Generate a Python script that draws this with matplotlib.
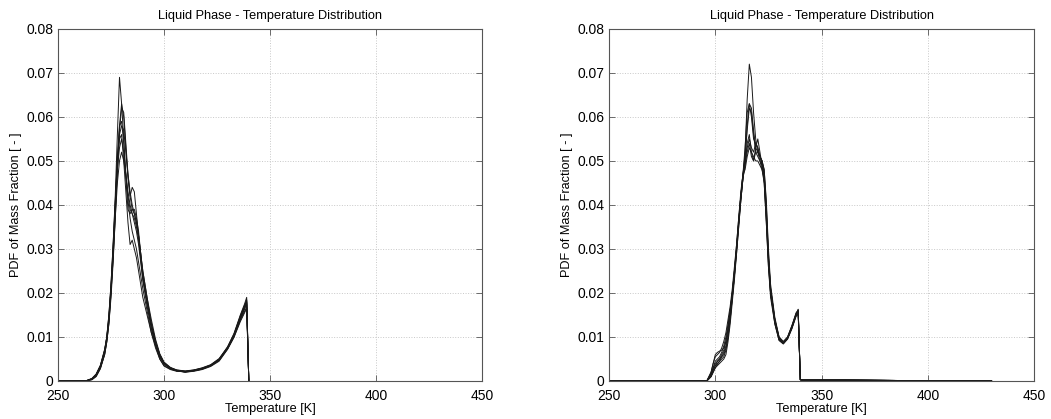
import matplotlib
matplotlib.use("Agg")
import matplotlib.pyplot as plt

plt.rcParams['font.family'] = ['Liberation Sans', 'DejaVu Sans']

# ---------------- data: left panel ----------------
T_left = [250, 263, 266, 268, 270, 272, 273, 274, 275, 276, 277, 278, 279, 280, 281,
          282, 283, 284, 285, 286, 287, 288, 289, 290, 292, 294, 296, 298, 300, 303,
          306, 310, 314, 318, 322, 326, 330, 333, 336, 338, 339, 340]

L1 = [0, 0, 0.0005, 0.0015, 0.0035, 0.007, 0.010, 0.015, 0.022, 0.031, 0.042, 0.056, 0.069, 0.063, 0.055,
      0.047, 0.041, 0.037, 0.034, 0.032, 0.030, 0.027, 0.024, 0.021, 0.016, 0.011, 0.008, 0.005, 0.0035, 0.0027,
      0.0023, 0.0021, 0.0024, 0.0028, 0.0035, 0.0048, 0.0075, 0.0105, 0.0145, 0.0170, 0.0185, 0]
L2 = [0, 0, 0.0004, 0.0012, 0.003, 0.006, 0.009, 0.013, 0.019, 0.027, 0.037, 0.048, 0.058, 0.063, 0.060,
      0.053, 0.046, 0.042, 0.044, 0.043, 0.038, 0.033, 0.028, 0.023, 0.017, 0.012, 0.008, 0.0055, 0.004, 0.003,
      0.0024, 0.0022, 0.0025, 0.0029, 0.0036, 0.0050, 0.0078, 0.0108, 0.0150, 0.0175, 0.0190, 0]
L3 = [0, 0, 0.0005, 0.0014, 0.0033, 0.0068, 0.0098, 0.014, 0.021, 0.030, 0.040, 0.051, 0.058, 0.059, 0.054,
      0.046, 0.039, 0.038, 0.039, 0.039, 0.037, 0.034, 0.029, 0.024, 0.018, 0.012, 0.0085, 0.0055, 0.0038, 0.0028,
      0.0023, 0.0020, 0.0023, 0.0027, 0.0034, 0.0047, 0.0074, 0.0102, 0.0140, 0.0163, 0.0175, 0]
L4 = [0, 0, 0.0006, 0.0016, 0.0036, 0.0072, 0.010, 0.015, 0.022, 0.031, 0.041, 0.050, 0.055, 0.056, 0.050,
      0.043, 0.036, 0.031, 0.032, 0.030, 0.028, 0.025, 0.022, 0.019, 0.015, 0.011, 0.0075, 0.005, 0.0034, 0.0026,
      0.0022, 0.0021, 0.0023, 0.0027, 0.0035, 0.0047, 0.0073, 0.0100, 0.0138, 0.0158, 0.0168, 0]
L5 = [0, 0, 0.0003, 0.001, 0.0028, 0.006, 0.0088, 0.013, 0.020, 0.028, 0.038, 0.048, 0.056, 0.058, 0.057,
      0.052, 0.047, 0.043, 0.040, 0.038, 0.036, 0.033, 0.029, 0.025, 0.019, 0.013, 0.009, 0.006, 0.0042, 0.0030,
      0.0025, 0.0022, 0.0024, 0.0029, 0.0036, 0.0049, 0.0076, 0.0105, 0.0145, 0.0168, 0.0180, 0]
L6 = [0, 0, 0.0004, 0.0013, 0.0032, 0.0066, 0.0095, 0.014, 0.021, 0.029, 0.039, 0.048, 0.053, 0.055, 0.052,
      0.047, 0.042, 0.039, 0.038, 0.037, 0.035, 0.032, 0.028, 0.024, 0.018, 0.013, 0.009, 0.006, 0.004, 0.0029,
      0.0024, 0.0020, 0.0022, 0.0026, 0.0033, 0.0045, 0.0072, 0.0099, 0.0135, 0.0155, 0.0165, 0]
L7 = [0, 0, 0.0005, 0.0015, 0.0034, 0.007, 0.0098, 0.0145, 0.021, 0.030, 0.040, 0.050, 0.057, 0.062, 0.061,
      0.054, 0.047, 0.042, 0.039, 0.038, 0.036, 0.033, 0.029, 0.025, 0.019, 0.014, 0.0095, 0.0062, 0.0043, 0.0031,
      0.0025, 0.0023, 0.0025, 0.0030, 0.0037, 0.0051, 0.0077, 0.0106, 0.0148, 0.0172, 0.0183, 0]
L8 = [0, 0, 0.0003, 0.0011, 0.0029, 0.0062, 0.009, 0.0135, 0.020, 0.028, 0.037, 0.045, 0.050, 0.052, 0.050,
      0.047, 0.043, 0.040, 0.038, 0.036, 0.034, 0.031, 0.027, 0.023, 0.018, 0.013, 0.0088, 0.0058, 0.0040, 0.0029,
      0.0023, 0.0021, 0.0024, 0.0028, 0.0035, 0.0048, 0.0075, 0.0103, 0.0142, 0.0165, 0.0178, 0]

# ---------------- data: right panel ----------------
T_right = [250, 296, 298, 299, 300, 301, 302, 303, 304, 305, 306, 307, 308, 309, 310,
           311, 312, 313, 314, 315, 316, 317, 318, 319, 320, 321, 322, 323, 324, 325,
           326, 328, 330, 332, 334, 336, 338, 339, 340, 341, 360, 390, 430]

R1 = [0, 0, 0.0015, 0.003, 0.004, 0.0045, 0.005, 0.0055, 0.006, 0.0075, 0.010, 0.014, 0.019, 0.024, 0.029,
      0.035, 0.041, 0.046, 0.052, 0.064, 0.072, 0.069, 0.061, 0.055, 0.052, 0.051, 0.049, 0.045, 0.036, 0.026,
      0.020, 0.0135, 0.0095, 0.0087, 0.0100, 0.0125, 0.0155, 0.0160, 0.0003, 0.0002, 0.0002, 0.0001, 0]
R2 = [0, 0, 0.002, 0.004, 0.006, 0.0065, 0.0068, 0.007, 0.0075, 0.009, 0.012, 0.016, 0.020, 0.025, 0.030,
      0.036, 0.042, 0.047, 0.053, 0.061, 0.063, 0.060, 0.055, 0.054, 0.053, 0.051, 0.050, 0.047, 0.038, 0.028,
      0.021, 0.014, 0.010, 0.0088, 0.0098, 0.012, 0.015, 0.0158, 0.0003, 0.0002, 0.0002, 0.0001, 0]
R3 = [0, 0, 0.001, 0.002, 0.003, 0.0035, 0.004, 0.0045, 0.005, 0.006, 0.009, 0.013, 0.018, 0.023, 0.029,
      0.035, 0.041, 0.046, 0.050, 0.058, 0.063, 0.062, 0.057, 0.053, 0.052, 0.051, 0.050, 0.048, 0.040, 0.029,
      0.021, 0.014, 0.0098, 0.0086, 0.0096, 0.0122, 0.0150, 0.0162, 0.0003, 0.0002, 0.0002, 0.0001, 0]
R4 = [0, 0, 0.0015, 0.0025, 0.0035, 0.004, 0.0045, 0.005, 0.0055, 0.007, 0.010, 0.014, 0.019, 0.024, 0.030,
      0.036, 0.042, 0.047, 0.051, 0.057, 0.062, 0.061, 0.056, 0.052, 0.051, 0.050, 0.049, 0.047, 0.039, 0.028,
      0.020, 0.0135, 0.0095, 0.0086, 0.0097, 0.0121, 0.0150, 0.0158, 0.0003, 0.0002, 0.0002, 0.0001, 0]
R5 = [0, 0, 0.002, 0.004, 0.0055, 0.006, 0.0065, 0.0075, 0.009, 0.011, 0.014, 0.017, 0.021, 0.026, 0.031,
      0.037, 0.042, 0.046, 0.049, 0.054, 0.056, 0.052, 0.050, 0.053, 0.055, 0.052, 0.049, 0.046, 0.037, 0.027,
      0.020, 0.013, 0.0093, 0.0085, 0.0097, 0.0120, 0.0148, 0.0155, 0.0003, 0.0002, 0.0002, 0.0001, 0]
R6 = [0, 0, 0.001, 0.0025, 0.0035, 0.0045, 0.005, 0.006, 0.007, 0.009, 0.012, 0.016, 0.020, 0.025, 0.031,
      0.037, 0.043, 0.047, 0.050, 0.053, 0.055, 0.053, 0.052, 0.054, 0.053, 0.051, 0.050, 0.048, 0.041, 0.030,
      0.022, 0.0145, 0.0100, 0.0090, 0.0100, 0.0125, 0.0153, 0.0163, 0.0003, 0.0002, 0.0002, 0.0001, 0]
R7 = [0, 0, 0.0015, 0.003, 0.0045, 0.005, 0.0055, 0.0065, 0.008, 0.010, 0.013, 0.016, 0.020, 0.025, 0.030,
      0.036, 0.041, 0.046, 0.049, 0.052, 0.054, 0.051, 0.050, 0.052, 0.052, 0.050, 0.048, 0.045, 0.036, 0.026,
      0.019, 0.013, 0.0092, 0.0084, 0.0095, 0.0118, 0.0147, 0.0152, 0.0003, 0.0002, 0.0002, 0.0001, 0]
R8 = [0, 0, 0.001, 0.002, 0.003, 0.0038, 0.0045, 0.0055, 0.0065, 0.008, 0.011, 0.015, 0.019, 0.024, 0.030,
      0.036, 0.042, 0.047, 0.048, 0.051, 0.053, 0.052, 0.051, 0.050, 0.050, 0.049, 0.048, 0.046, 0.038, 0.028,
      0.021, 0.0138, 0.0096, 0.0087, 0.0098, 0.0123, 0.0152, 0.0160, 0.0003, 0.0002, 0.0002, 0.0001, 0]

left_series = [L1, L2, L3, L4, L5, L6, L7, L8]
right_series = [R1, R2, R3, R4, R5, R6, R7, R8]

x_ticks = [250, 300, 350, 400, 450]
y_ticks = [0, 0.01, 0.02, 0.03, 0.04, 0.05, 0.06, 0.07, 0.08]
y_ticklabels = ['0', '0.01', '0.02', '0.03', '0.04', '0.05', '0.06', '0.07', '0.08']
title = 'Liquid Phase - Temperature Distribution'
xlabel = 'Temperature [K]'
ylabel = 'PDF of Mass Fraction [ - ]'

fig = plt.figure(figsize=(10.51, 4.19), dpi=100)
ax_l = fig.add_axes([0.0552, 0.0907, 0.4034, 0.8403])
ax_r = fig.add_axes([0.5795, 0.0907, 0.4044, 0.8403])

for ax, T, series in [(ax_l, T_left, left_series), (ax_r, T_right, right_series)]:
    for s in series:
        ax.plot(T, s, color='#1a1a1a', lw=0.7)
    ax.set_xlim(250, 450)
    ax.set_ylim(0, 0.08)
    ax.set_xticks(x_ticks)
    ax.set_yticks(y_ticks)
    ax.set_yticklabels(y_ticklabels)
    ax.grid(True, linestyle=':', color='#c8c8c8', lw=0.7)
    ax.tick_params(direction='in', top=True, right=True, length=4, width=0.6,
                   color='#555555', labelsize=10)
    ax.tick_params(axis='x', pad=5.5)
    ax.tick_params(axis='y', pad=3.5)
    for sp in ax.spines.values():
        sp.set_color('#555555')
        sp.set_linewidth(0.8)
    ax.set_title(title, fontsize=9.2, pad=7)
    ax.set_xlabel(xlabel, fontsize=9.2, labelpad=0)
    ax.set_ylabel(ylabel, fontsize=9.2, labelpad=3)

fig.savefig('out.png', dpi=100)
